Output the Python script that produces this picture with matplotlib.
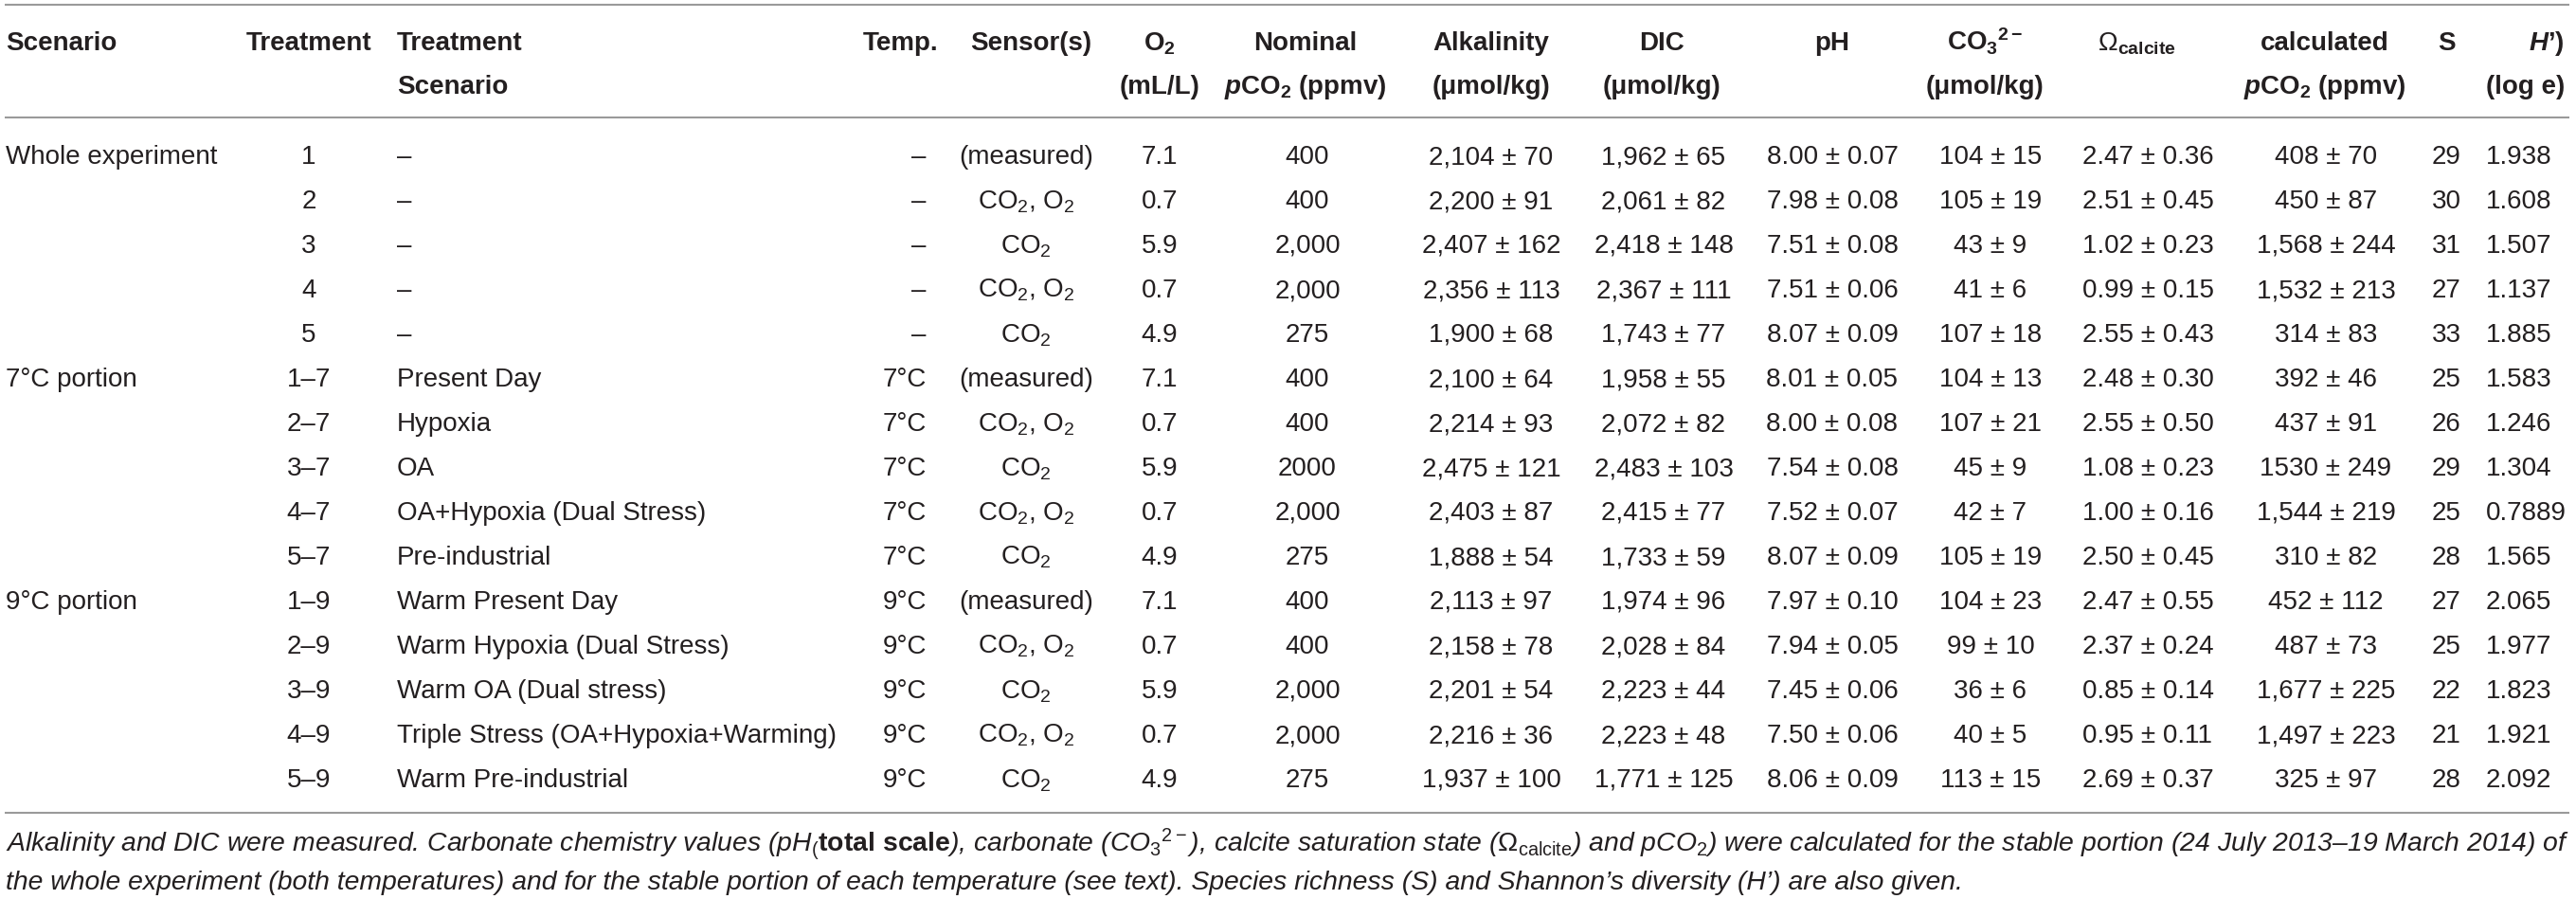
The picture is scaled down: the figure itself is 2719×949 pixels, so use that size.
import matplotlib
matplotlib.use("Agg")
import matplotlib.pyplot as plt

plt.rcParams['font.family'] = ['Liberation Sans', 'DejaVu Sans']
plt.rcParams['mathtext.fontset'] = 'custom'
plt.rcParams['mathtext.rm'] = 'Liberation Sans'
plt.rcParams['mathtext.it'] = 'Liberation Sans:italic'
plt.rcParams['mathtext.bf'] = 'Liberation Sans:bold'
plt.rcParams['mathtext.bfit'] = 'Liberation Sans:italic:bold'
plt.rcParams['mathtext.sf'] = 'Liberation Sans'

# ---------------- data ----------------
groups = ["Whole experiment", "", "", "", "", "7°C portion", "", "", "", "",
          "9°C portion", "", "", "", ""]
treatments = ["1", "2", "3", "4", "5", "1–7", "2–7", "3–7", "4–7", "5–7",
              "1–9", "2–9", "3–9", "4–9", "5–9"]
treat_scen = ["–", "–", "–", "–", "–",
              "Present Day", "Hypoxia", "OA", "OA+Hypoxia (Dual Stress)", "Pre-industrial",
              "Warm Present Day", "Warm Hypoxia (Dual Stress)", "Warm OA (Dual stress)",
              "Triple Stress (OA+Hypoxia+Warming)", "Warm Pre-industrial"]
temps = ["–"] * 5 + ["7°C"] * 5 + ["9°C"] * 5
sensors = ["(measured)", "CO$_2$, O$_2$", "CO$_2$", "CO$_2$, O$_2$", "CO$_2$",
           "(measured)", "CO$_2$, O$_2$", "CO$_2$", "CO$_2$, O$_2$", "CO$_2$",
           "(measured)", "CO$_2$, O$_2$", "CO$_2$", "CO$_2$, O$_2$", "CO$_2$"]
o2 = ["7.1", "0.7", "5.9", "0.7", "4.9", "7.1", "0.7", "5.9", "0.7", "4.9",
      "7.1", "0.7", "5.9", "0.7", "4.9"]
nominal = ["400", "400", "2,000", "2,000", "275", "400", "400", "2000", "2,000", "275",
           "400", "400", "2,000", "2,000", "275"]
alkalinity = ["2,104 ± 70", "2,200 ± 91", "2,407 ± 162", "2,356 ± 113", "1,900 ± 68",
              "2,100 ± 64", "2,214 ± 93", "2,475 ± 121", "2,403 ± 87", "1,888 ± 54",
              "2,113 ± 97", "2,158 ± 78", "2,201 ± 54", "2,216 ± 36", "1,937 ± 100"]
dic = ["1,962 ± 65", "2,061 ± 82", "2,418 ± 148", "2,367 ± 111", "1,743 ± 77",
       "1,958 ± 55", "2,072 ± 82", "2,483 ± 103", "2,415 ± 77", "1,733 ± 59",
       "1,974 ± 96", "2,028 ± 84", "2,223 ± 44", "2,223 ± 48", "1,771 ± 125"]
ph = ["8.00 ± 0.07", "7.98 ± 0.08", "7.51 ± 0.08", "7.51 ± 0.06", "8.07 ± 0.09",
      "8.01 ± 0.05", "8.00 ± 0.08", "7.54 ± 0.08", "7.52 ± 0.07", "8.07 ± 0.09",
      "7.97 ± 0.10", "7.94 ± 0.05", "7.45 ± 0.06", "7.50 ± 0.06", "8.06 ± 0.09"]
co3 = ["104 ± 15", "105 ± 19", "43 ± 9", "41 ± 6", "107 ± 18",
       "104 ± 13", "107 ± 21", "45 ± 9", "42 ± 7", "105 ± 19",
       "104 ± 23", "99 ± 10", "36 ± 6", "40 ± 5", "113 ± 15"]
omega = ["2.47 ± 0.36", "2.51 ± 0.45", "1.02 ± 0.23", "0.99 ± 0.15", "2.55 ± 0.43",
         "2.48 ± 0.30", "2.55 ± 0.50", "1.08 ± 0.23", "1.00 ± 0.16", "2.50 ± 0.45",
         "2.47 ± 0.55", "2.37 ± 0.24", "0.85 ± 0.14", "0.95 ± 0.11", "2.69 ± 0.37"]
pco2_calc = ["408 ± 70", "450 ± 87", "1,568 ± 244", "1,532 ± 213", "314 ± 83",
             "392 ± 46", "437 ± 91", "1530 ± 249", "1,544 ± 219", "310 ± 82",
             "452 ± 112", "487 ± 73", "1,677 ± 225", "1,497 ± 223", "325 ± 97"]
richness = ["29", "30", "31", "27", "33", "25", "26", "29", "25", "28",
            "27", "25", "22", "21", "28"]
shannon = ["1.938", "1.608", "1.507", "1.137", "1.885", "1.583", "1.246", "1.304",
           "0.7889", "1.565", "2.065", "1.977", "1.823", "1.921", "2.092"]

columns = [groups, treatments, treat_scen, temps, sensors, o2, nominal, alkalinity,
           dic, ph, co3, omega, pco2_calc, richness, shannon]

header1 = ["Scenario", "Treatment", "Treatment", "Temp.", "Sensor(s)",
           r"$\mathbf{O}_\mathbf{2}$", "Nominal", "Alkalinity", "DIC", "pH",
           r"$\mathbf{CO}_\mathbf{3}$$^{\mathbf{2-}}$", r"$\Omega_{\mathbf{calcite}}$",
           "calculated", "S", r"$\mathbfit{H}$’)"]
header2 = ["", "", "Scenario", "", "", "(mL/L)",
           r"$\mathbfit{p}\mathbf{CO}_\mathbf{2}$ (ppmv)", "(μmol/kg)", "(μmol/kg)", "",
           "(μmol/kg)", "", r"$\mathbfit{p}\mathbf{CO}_\mathbf{2}$ (ppmv)", "", "(log e)"]

caption1 = (r"Alkalinity and DIC were measured. Carbonate chemistry values (pH$_($$\mathbf{total\ scale}$), "
            r"carbonate (CO$_3$$^{2-}$), calcite saturation state ($\Omega_{\mathrm{calcite}}$) and pCO$_2$) "
            r"were calculated for the stable portion (24 July 2013–19 March 2014) of")
caption2 = ("the whole experiment (both temperatures) and for the stable portion of each "
            "temperature (see text). Species richness (S) and Shannon’s diversity (H’) are also given.")

# ---------------- layout ----------------
W, H = 2719, 949
fig = plt.figure(figsize=(W / 100, H / 100), dpi=100)
ax = fig.add_axes([0, 0, 1, 1])
ax.set_xlim(0, W)
ax.set_ylim(H, 0)
ax.axis("off")

col_x = [6, 326, 419, 978, 1083, 1224, 1380, 1574, 1756, 1934, 2101, 2267, 2455, 2582, 2624]
col_ha = ["left", "center", "left", "right", "center", "center", "center", "center",
          "center", "center", "center", "center", "center", "center", "left"]
hdr_x = [6, 326, 419, 990, 1088, 1224, 1378, 1574, 1754, 1934, 2095, 2255, 2454, 2582, 2707]
hdr_ha = ["left", "center", "left", "right", "center", "center", "center", "center",
          "center", "center", "center", "center", "center", "center", "right"]

txt = "#231f20"
rule = "#9a9a9a"
fs = 20

# rules
for yy in (5, 124, 858):
    ax.plot([5, 2712], [yy, yy], color=rule, lw=1.5, solid_capstyle="butt")

# headers
for x, ha, t1, t2 in zip(hdr_x, hdr_ha, header1, header2):
    ax.text(x, 53, t1, ha=ha, va="baseline", fontsize=fs, fontweight="bold", color=txt)
    if t2:
        ax.text(x, 99, t2, ha=ha, va="baseline", fontsize=fs, fontweight="bold", color=txt)

# body
row0, dy = 163, 47
for c, (x, ha) in enumerate(zip(col_x, col_ha)):
    for r, val in enumerate(columns[c]):
        if val:
            ax.text(x, row0 + r * dy + 10, val, ha=ha, va="baseline", fontsize=fs, color=txt)

# caption
ax.text(6, 899, caption1, ha="left", va="baseline", fontsize=20.4, fontstyle="italic", color=txt)
ax.text(6, 939, caption2, ha="left", va="baseline", fontsize=20.4, fontstyle="italic", color=txt)

fig.savefig("out.png", dpi=100)
